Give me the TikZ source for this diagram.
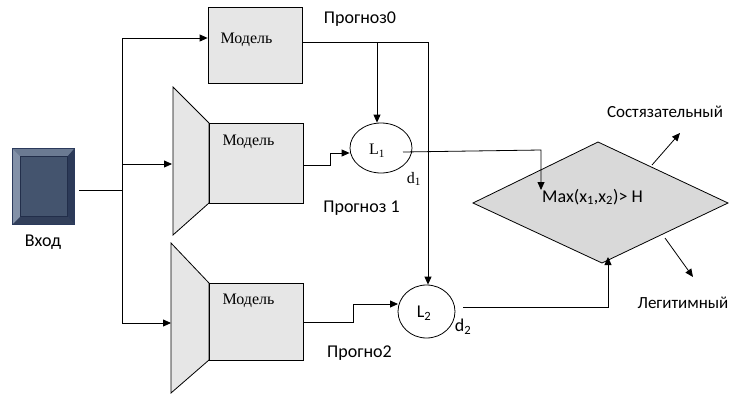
\documentclass[tikz,border=0pt]{standalone}
\usepackage{fontspec}
\setmainfont{Liberation Serif}
\newfontfamily\calib{Carlito}
\usetikzlibrary{arrows.meta,shapes.geometric,calc}
\definecolor{boxgray}{HTML}{E6E6E6}
\definecolor{diagray}{HTML}{D9D9D9}
\definecolor{bface}{HTML}{44546E}
\definecolor{btop}{HTML}{6B7A92}
\definecolor{bleft}{HTML}{8391A8}
\definecolor{bright}{HTML}{2C3A58}
\definecolor{bbottom}{HTML}{323F5A}
\definecolor{bborder}{HTML}{2B3A5C}
\tikzset{
  conn/.style={draw=black, line width=0.8pt},
  arr/.style={conn, -{Triangle[length=8pt,width=7pt]}},
  modelbox/.style={draw=black, line width=0.8pt, fill=boxgray, rectangle, inner sep=0pt},
  trap/.style={draw=black, line width=0.8pt, fill=boxgray},
  lossnode/.style={draw=black, line width=0.8pt, ellipse, fill=white, inner sep=0pt},
  mtext/.style={font=\fontsize{16}{18}\selectfont, inner sep=0pt},
  serif/.style={font=\fontsize{16}{18}\selectfont, inner sep=0pt},
  sans/.style={font=\calib\fontsize{18}{20}\selectfont, inner sep=0pt},
  sanss/.style={font=\calib\fontsize{17}{19}\selectfont, inner sep=0pt},
}
\begin{document}
\begin{tikzpicture}[x=1pt,y=-1pt]
\useasboundingbox (0,0) rectangle (740,394);
% input block
\node[draw=bborder, fill=bface, minimum width=61pt, minimum height=75pt, inner sep=0pt, line width=0.8pt] (in) at (43.5,186.5) {};
\fill[btop] (in.north west) -- (in.north east) -- ($(in.north east)+(-7,8)$) -- ($(in.north west)+(8,8)$) -- cycle;
\fill[bleft] (in.north west) -- ($(in.north west)+(8,8)$) -- ($(in.south west)+(8,-8)$) -- (in.south west) -- cycle;
\fill[bright] (in.north east) -- ($(in.north east)+(-7,8)$) -- ($(in.south east)+(-7,-8)$) -- (in.south east) -- cycle;
\fill[bbottom] (in.south west) -- ($(in.south west)+(8,-8)$) -- ($(in.south east)+(-7,-8)$) -- (in.south east) -- cycle;
\draw[bborder, line width=0.6pt] (in.north west) rectangle (in.south east);
\draw[bborder!80!black, line width=0.4pt] ($(in.north west)+(8,8)$) rectangle ($(in.south east)+(-7,-8)$);
\node[sans] (inlabel) at (43,242) {Вход};

% branch points
\coordinate (inout) at (79,190);
\coordinate (split) at (122,190);
\coordinate (t0) at (122,38);
\coordinate (t1) at (122,164);
\coordinate (t2) at (122,323);

% model boxes
\node[modelbox, minimum width=94pt, minimum height=76pt] (m0) at (255,45) {};
\node[mtext] (m0t) at (246.5,40) {Модель};

\draw[trap] (173,87) -- (209,123) -- (209,203) -- (173,235) -- cycle;
\coordinate (tr1) at (172,164);
\node[modelbox, minimum width=94pt, minimum height=80pt] (m1) at (256,163) {};
\node[mtext] (m1t) at (248.5,142) {Модель};

\draw[trap] (171,243) -- (209,283) -- (209,360) -- (171,393) -- cycle;
\coordinate (tr2) at (171,323);
\node[modelbox, minimum width=94pt, minimum height=77pt] (m2) at (256,321.5) {};
\node[mtext] (m2t) at (248.5,301) {Модель};

% input connectors
\draw[conn] (inout) -- (split);
\draw[conn] (t0) -- (t2);
\draw[arr] (t0) -- (m0.west |- t0);
\draw[arr] (t1) -- (tr1);
\draw[arr] (t2) -- (tr2);

% loss nodes
\node[lossnode, minimum width=62pt, minimum height=50pt] (L1) at (381,148) {};
\node[serif] (L1t) at (377,151) {L\textsubscript{1}};
\node[serif] (d1) at (414,179) {d\textsubscript{1}};
\node[lossnode, minimum width=57pt, minimum height=53pt] (L2) at (426.5,311.5) {};
\node[sans] (L2t) at (424,313) {L\textsubscript{2}};
\node[sans] (d2) at (463,327) {d\textsubscript{2}};

% labels
\node[sans] (p0) at (360,19) {Прогноз0};
\node[sans] (p1) at (361.5,208) {Прогноз 1};
\node[sans] (p2) at (359.5,353) {Прогно2};

% model0 outputs
\coordinate (m0out) at (302,42);
\coordinate (j0) at (377,42);
\coordinate (j1) at (428,42);
\draw[conn] (m0out) -- (j1);
\draw[arr] (j0) -- (j0 |- L1.north);
\draw[arr] (j1) -- (j1 |- L2.north);

% model1/2 to loss
\draw[arr] (m1.east |- 0,165) -- (330,165) -- (330,153) -- (L1.west |- 0,153);
\draw[arr] (m2.east |- 0,322) -- (353,322) -- (353,304) -- (398,304);

% decision
\coordinate (dW) at (473,203);
\coordinate (dN) at (598,142);
\coordinate (dE) at (728,203);
\coordinate (dS) at (602,263);
\path[draw=black, line width=0.8pt, fill=diagray] (dW) -- (dN) -- (dE) -- (dS) -- cycle;
\node[sans] (dec) at (592.5,197) {Max(x\textsubscript{1},x\textsubscript{2})> H};

\draw[arr] (403,152) -- (541,150) -- (541,190);
\draw[arr] (463,307) -- (608,307) -- (608,257);

\draw[arr] (652,165) -- (680,133);
\draw[arr] (665,238) -- (693,277);
\node[sanss] (o1) at (665,112) {Состязательный};
\node[sanss] (o2) at (683,303) {Легитимный};
\end{tikzpicture}
\end{document}
